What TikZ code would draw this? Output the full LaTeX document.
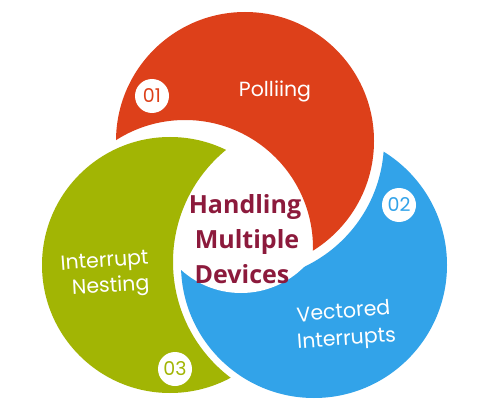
\documentclass[tikz,border=0pt]{standalone}
\usepackage{fontspec}
\setmainfont{Poppins}
\newfontfamily\headfont{Open Sans}
\definecolor{cred}{RGB}{221,64,26}
\definecolor{cgreen}{RGB}{162,181,4}
\definecolor{cblue}{RGB}{50,163,233}
\definecolor{chead}{RGB}{140,26,60}
\begin{document}
\begin{tikzpicture}[x=1pt,y=-1pt,
  numbadge/.style={circle, fill=white, minimum size=34pt, inner sep=0pt,
    font=\fontsize{19}{19}\selectfont},
  cirtext/.style={text=white, anchor=base, inner sep=0pt,
    font=\fontsize{20.5}{20.5}\selectfont},
  headtext/.style={text=chead, anchor=base, inner sep=0pt,
    font=\headfont\bfseries\fontsize{25}{25}\selectfont}]
\useasboundingbox (0,0) rectangle (490,409);
\fill[white] (0,0) rectangle (490,409);
% circle centres
\coordinate (R) at (245,141);
\coordinate (G) at (170,265);
\coordinate (B) at (314,265);
% centres of the white cuts
\coordinate (KR) at (185,248);
\coordinate (KG) at (318,262);
\coordinate (KB) at (241,204);
% blue circle, cut by the red one
\begin{scope}
  \clip (B) circle (133pt);
  \fill[cblue,even odd rule] (B) circle (137pt) (R) circle (139pt);
\end{scope}
% white hub under the text
\fill[white] (KB) circle (89pt);
% red circle
\begin{scope}
  \clip (R) circle (129pt);
  \fill[cred,even odd rule] (R) circle (133pt) (KR) circle (128pt);
\end{scope}
% green circle, cut by the blue one
\begin{scope}
  \clip (G) circle (128pt);
  \fill[cgreen,even odd rule] (G) circle (132pt) (KG) circle (145pt);
\end{scope}
% badges
\node[numbadge, text=cred] (n1) at (152,96) {01};
\node[numbadge, text=cblue] (n2) at (399,205) {02};
\node[numbadge, text=cgreen] (n3) at (175,369) {03};
% labels
\node[cirtext] (t1) at (275,97) {Polliing};
\node[cirtext, rotate=4] (t2a) at (105,267) {Interrupt};
\node[cirtext, rotate=3] (t2b) at (111,292) {Nesting};
\node[cirtext, rotate=5] (t3a) at (344,318) {Vectored};
\node[cirtext, rotate=4] (t3b) at (347,345) {Interrupts};
% heading
\node[headtext] (h1) at (245,213) {Handling};
\node[headtext] (h2) at (247,248) {Multiple};
\node[headtext] (h3) at (242,283) {Devices};
\end{tikzpicture}
\end{document}
